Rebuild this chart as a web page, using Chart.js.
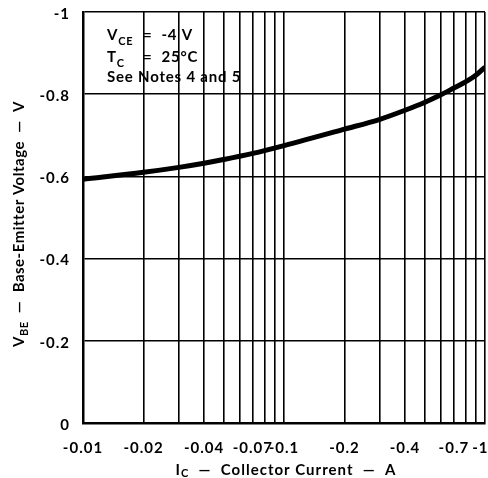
<!DOCTYPE html>
<html>
<head>
<meta charset="utf-8">
<script src="https://cdn.jsdelivr.net/npm/chart.js@4"></script>
<style>
  html, body { margin: 0; padding: 0; background: #fff; }
</style>
</head>
<body>
<canvas id="vbeChart" width="488" height="478"></canvas>
<script>
// collector current magnitudes (A); the axis shows them as negative values
const collectorCurrent = [0.01, 0.02, 0.03, 0.04, 0.05, 0.07, 0.1, 0.2, 0.3, 0.4, 0.5, 0.6, 0.7, 0.8, 0.9, 1];
// base-emitter voltage (V)
const baseEmitterVoltage = [-0.593, -0.610, -0.622, -0.632, -0.641, -0.656, -0.675, -0.715, -0.739, -0.761, -0.780, -0.798, -0.815, -0.830, -0.846, -0.866];

const xGridValues = [0.01, 0.02, 0.03, 0.04, 0.05, 0.06, 0.07, 0.08, 0.09,
                     0.1, 0.2, 0.3, 0.4, 0.5, 0.6, 0.7, 0.8, 0.9, 1];
const xTickLabels = [0.01, 0.02, 0.04, 0.07, 0.1, 0.2, 0.4, 0.7, 1];
const yTicks = [-1, -0.8, -0.6, -0.4, -0.2, 0];

const FONT = "Lato, sans-serif";

// draws text made of normal and subscript parts, returns width
function drawParts(ctx, parts, x, y, size, subDrop, measureOnly) {
  let w = 0;
  parts.forEach(([txt, sub]) => {
    ctx.font = 'bold ' + (sub ? Math.round(size * 0.75) : size) + 'px ' + FONT;
    if (!measureOnly) ctx.fillText(txt, x + w, y + (sub ? subDrop : 0));
    w += ctx.measureText(txt).width;
  });
  return w;
}

const textPlugin = {
  id: 'textPlugin',
  beforeDraw(chart) {
    // wider spacing for the tick labels, like the original lettering
    chart.ctx.letterSpacing = '1px';
  },
  afterDraw(chart) {
    const ctx = chart.ctx;
    ctx.save();
    ctx.fillStyle = '#000';
    ctx.textBaseline = 'alphabetic';
    ctx.textAlign = 'left';

    // conditions box
    ctx.letterSpacing = '0.8px';
    drawParts(ctx, [['V', false], ['CE', true]], 107, 40, 15, 4.5);
    drawParts(ctx, [['=  -4 V', false]], 143, 40, 15, 0);
    drawParts(ctx, [['T', false], ['C', true]], 107, 62, 15, 4.5);
    drawParts(ctx, [['=  25°C', false]], 143, 62, 15, 0);
    drawParts(ctx, [['See Notes 4 and 5', false]], 107, 82, 15, 0);

    // x axis title
    ctx.letterSpacing = '1px';
    const xParts = [['I', false], ['C', true], ['  —  Collector Current  —  A', false]];
    const xw = drawParts(ctx, xParts, 0, 0, 15, 2, true);
    drawParts(ctx, xParts, 286 - xw / 2, 475, 15, 2);

    // y axis title
    ctx.letterSpacing = '0.5px';
    const yParts = [['V', false], ['BE', true], ['  —  Base-Emitter Voltage  —  V', false]];
    const yw = drawParts(ctx, yParts, 0, 0, 15, 4, true);
    ctx.translate(24, 224);
    ctx.rotate(-Math.PI / 2);
    drawParts(ctx, yParts, -yw / 2, 0, 15, 4);
    ctx.restore();
  }
};

new Chart(document.getElementById('vbeChart'), {
  type: 'line',
  data: {
    labels: collectorCurrent,
    datasets: [{
      data: collectorCurrent.map((c, i) => ({ x: c, y: baseEmitterVoltage[i] })),
      borderColor: '#000',
      borderWidth: 5,
      pointRadius: 0,
      cubicInterpolationMode: 'monotone',
      fill: false
    }]
  },
  options: {
    responsive: false,
    animation: false,
    layout: { padding: { left: 0, right: 3, top: 12, bottom: 0 } },
    plugins: { legend: { display: false }, tooltip: { enabled: false } },
    scales: {
      x: {
        type: 'logarithmic',
        min: 0.01,
        max: 1,
        afterBuildTicks(scale) {
          scale.ticks = xGridValues.map(v => ({ value: v }));
        },
        afterFit(scale) {
          scale.height = 55;
          scale.paddingLeft = 0;
          scale.paddingRight = 0;
        },
        grid: { color: '#000', lineWidth: 1.6, drawTicks: false },
        border: { color: '#000', width: 2.5 },
        ticks: {
          autoSkip: false,
          maxRotation: 0,
          padding: 16,
          color: '#000',
          font: { family: FONT, size: 15, weight: 'bold' },
          callback(value) {
            if (!xTickLabels.some(v => Math.abs(v - value) < 1e-9)) return '';
            return value === 1 ? '-1  ' : '-' + value;
          }
        }
      },
      y: {
        type: 'linear',
        min: -1,
        max: 0,
        reverse: true,
        afterBuildTicks(scale) {
          scale.ticks = yTicks.map(v => ({ value: v }));
        },
        afterFit(scale) {
          scale.width = 83;
          scale.paddingTop = 0;
          scale.paddingBottom = 0;
        },
        grid: { color: '#000', lineWidth: 1.6, drawTicks: false },
        border: { color: '#000', width: 2.5 },
        ticks: {
          padding: 13,
          labelOffset: 2,
          color: '#000',
          font: { family: FONT, size: 15, weight: 'bold' },
          callback(value) {
            if (value === 0) return '0';
            if (value === -1) return '-1';
            return value.toFixed(1);
          }
        }
      }
    }
  },
  plugins: [textPlugin]
});
</script>
</body>
</html>
